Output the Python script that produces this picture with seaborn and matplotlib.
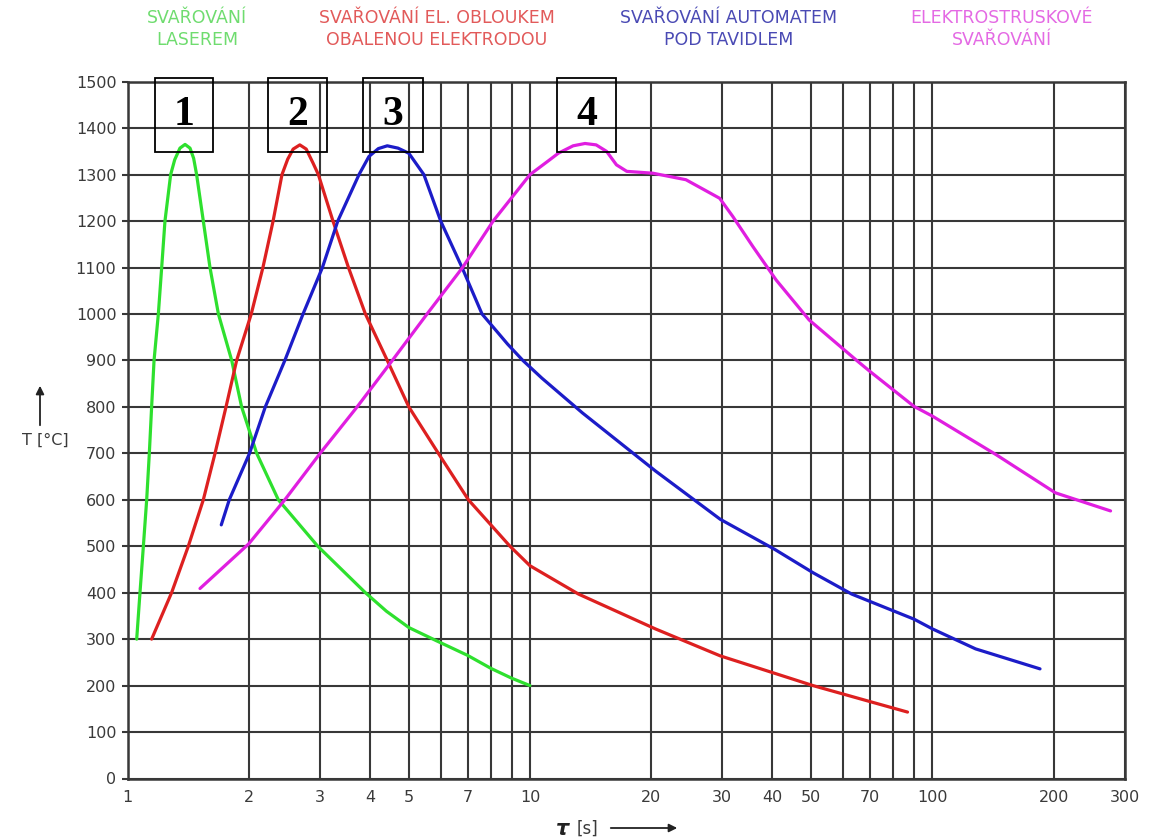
import numpy as np
import pandas as pd
import matplotlib
matplotlib.use("Agg")
import matplotlib.pyplot as plt
from matplotlib.patches import Rectangle, FancyArrowPatch
import seaborn as sns

# ---------------- data ----------------
laser_t = [1.054, 1.074, 1.095, 1.116, 1.133, 1.148, 1.164, 1.193, 1.216, 1.239, 1.28, 1.31,
           1.35, 1.39, 1.43, 1.46, 1.485, 1.543, 1.603, 1.682, 1.815, 1.921, 2.094, 2.37,
           2.97, 3.45, 3.9, 4.4, 5.0, 5.84, 7.0, 8.0, 9.0, 10.0]
laser_T = [300, 400, 500, 600, 700, 800, 900, 1000, 1100, 1200, 1300, 1332,
           1357, 1365, 1357, 1335, 1300, 1200, 1100, 1000, 900, 800, 700, 600,
           500, 445, 400, 360, 325, 297, 265, 237, 216, 200]

arc_t = [1.148, 1.287, 1.416, 1.543, 1.65, 1.757, 1.867, 2.03, 2.17, 2.30, 2.42, 2.50,
         2.58, 2.68, 2.78, 2.89, 2.98, 3.24, 3.54, 3.90, 4.42, 5.0, 5.92, 7.03, 8.92,
         10.0, 13.2, 20.5, 29.7, 50.5, 71.0, 86.7]
arc_T = [300, 400, 500, 600, 700, 800, 900, 1000, 1100, 1200, 1300, 1333,
         1355, 1364, 1355, 1325, 1300, 1200, 1100, 1000, 900, 800, 700, 600, 500,
         458, 397, 322, 264, 200, 164, 143]

saw_t = [1.71, 1.79, 2.01, 2.20, 2.46, 2.73, 3.05, 3.33, 3.76, 3.98, 4.2, 4.42, 4.7,
         5.0, 5.45, 6.0, 6.78, 7.6, 8.8, 9.6, 10.7, 13.5, 20.5, 29.7, 40.6, 50.5,
         63.0, 90.0, 100.0, 128.0, 185.0]
saw_T = [546, 600, 700, 800, 900, 1000, 1100, 1200, 1300, 1339, 1356, 1362, 1357,
         1346, 1300, 1200, 1100, 1000, 935, 900, 862, 787, 662, 558, 493, 443,
         397, 343, 322, 279, 236]

esw_t = [1.514, 2.0, 2.46, 3.01, 3.72, 4.55, 5.55, 6.8, 8.1, 10.0, 11.2, 11.76,
         12.8, 13.7, 14.6, 15.5, 16.4, 17.4, 20.2, 24.4, 29.6, 31.9, 35.8, 40.9,
         49.4, 64.6, 70.0, 90.0, 100.0, 144.0, 202.0, 277.0]
esw_T = [409, 505, 600, 700, 800, 900, 1000, 1100, 1200, 1300, 1332, 1346,
         1362, 1367, 1364, 1350, 1321, 1307, 1303, 1289, 1249, 1210, 1145, 1073,
         987, 901, 876, 801, 780, 697, 615, 576]

series_names = ["SVAŘOVÁNÍ\nLASEREM",
                "SVAŘOVÁNÍ EL. OBLOUKEM\nOBALENOU ELEKTRODOU",
                "SVAŘOVÁNÍ AUTOMATEM\nPOD TAVIDLEM",
                "ELEKTROSTRUSKOVÉ\nSVAŘOVÁNÍ"]
box_labels = ["1", "2", "3", "4"]

x_tick_values = [1, 2, 3, 4, 5, 6, 7, 8, 9, 10, 20, 30, 40, 50, 60, 70, 80, 90, 100, 200, 300]
x_tick_labels = ["1", "2", "3", "4", "5", "", "7", "", "", "10", "20", "30", "40", "50",
                 "", "70", "", "", "100", "200", "300"]
y_tick_values = list(range(0, 1501, 100))

# ---------------- styling / layout ----------------
line_colors = ["#2ee02e", "#dd2020", "#1c1cc8", "#e01ee0"]
header_colors = ["#6fdc6f", "#e25a5a", "#4a4ab4", "#e46ae4"]
header_x_px = [197, 437, 729, 1002]
box_t_ranges = [(1.17, 1.63), (2.23, 3.13), (3.85, 5.42), (11.67, 16.36)]
box_T_range = (1349, 1508)

W, H = 1152, 839
sns.set_theme(style="white")
plt.rcParams["font.family"] = ["DejaVu Sans"]

fig = plt.figure(figsize=(W / 100, H / 100), dpi=100)
ax = fig.add_axes([127.5 / W, 60.5 / H, 997 / W, 696.8 / H])

frames = []
for name, t, T in zip(series_names, [laser_t, arc_t, saw_t, esw_t],
                      [laser_T, arc_T, saw_T, esw_T]):
    frames.append(pd.DataFrame({"t": t, "T": T, "method": name}))
df = pd.concat(frames, ignore_index=True)

ax.set_xscale("log")
ax.set_xlim(1, 300)
ax.set_ylim(0, 1500)

ax.set_xticks(x_tick_values)
ax.set_xticklabels(x_tick_labels)
ax.xaxis.set_minor_locator(matplotlib.ticker.NullLocator())
ax.set_yticks(y_tick_values)
ax.set_yticklabels([str(v) for v in y_tick_values])
ax.grid(True, which="major", color="#383838", linewidth=1.5)
ax.set_axisbelow(True)
for s in ax.spines.values():
    s.set_color("#383838")
    s.set_linewidth(1.8)

sns.lineplot(data=df, x="t", y="T", hue="method", palette=line_colors,
             sort=False, estimator=None, linewidth=2.3, legend=False, ax=ax, zorder=3)

ax.tick_params(axis="x", length=0, pad=8, labelsize=11.5, labelcolor="#3a3a3a")
ax.tick_params(axis="y", length=4, width=1.5, color="#383838", pad=4,
               labelsize=11.5, labelcolor="#3a3a3a", left=True)
ax.set_xlabel("")
ax.set_ylabel("")

# numbered boxes
for lab, (t0, t1) in zip(box_labels, box_t_ranges):
    rect = Rectangle((t0, box_T_range[0]), t1 - t0, box_T_range[1] - box_T_range[0],
                     transform=ax.transData, facecolor="none",
                     edgecolor="black", linewidth=1.3, clip_on=False, zorder=5)
    ax.add_patch(rect)
    ax.text(np.sqrt(t0 * t1), 1428, lab, ha="center", va="center",
            fontsize=30, fontweight="bold", family="Liberation Serif",
            color="black", zorder=6)

# headers
for name, col, xpx in zip(series_names, header_colors, header_x_px):
    fig.text(xpx / W, 1 - 29 / H, name, ha="center", va="center", color=col,
             fontsize=12.5, linespacing=1.35)

# axis labels with arrows
fig.text(45 / W, 1 - 440 / H, "T [°C]", ha="center", va="center",
         fontsize=11.5, color="#3a3a3a")
fig.patches.append(FancyArrowPatch(
    (40 / W, 1 - 428 / H), (40 / W, 1 - 383 / H), transform=fig.transFigure,
    arrowstyle="-|>", mutation_scale=12, color="#222222", linewidth=1.3))
fig.text(563 / W, 1 - 829 / H, "τ", ha="center", va="center",
         fontsize=15, color="#222222", style="italic", fontweight="bold")
fig.text(588 / W, 1 - 829 / H, "[s]", ha="center", va="center",
         fontsize=12, color="#3a3a3a")
fig.patches.append(FancyArrowPatch(
    (608 / W, 1 - 828 / H), (680 / W, 1 - 828 / H), transform=fig.transFigure,
    arrowstyle="-|>", mutation_scale=12, color="#222222", linewidth=1.3))

fig.savefig("out.png", dpi=100, facecolor="white")
